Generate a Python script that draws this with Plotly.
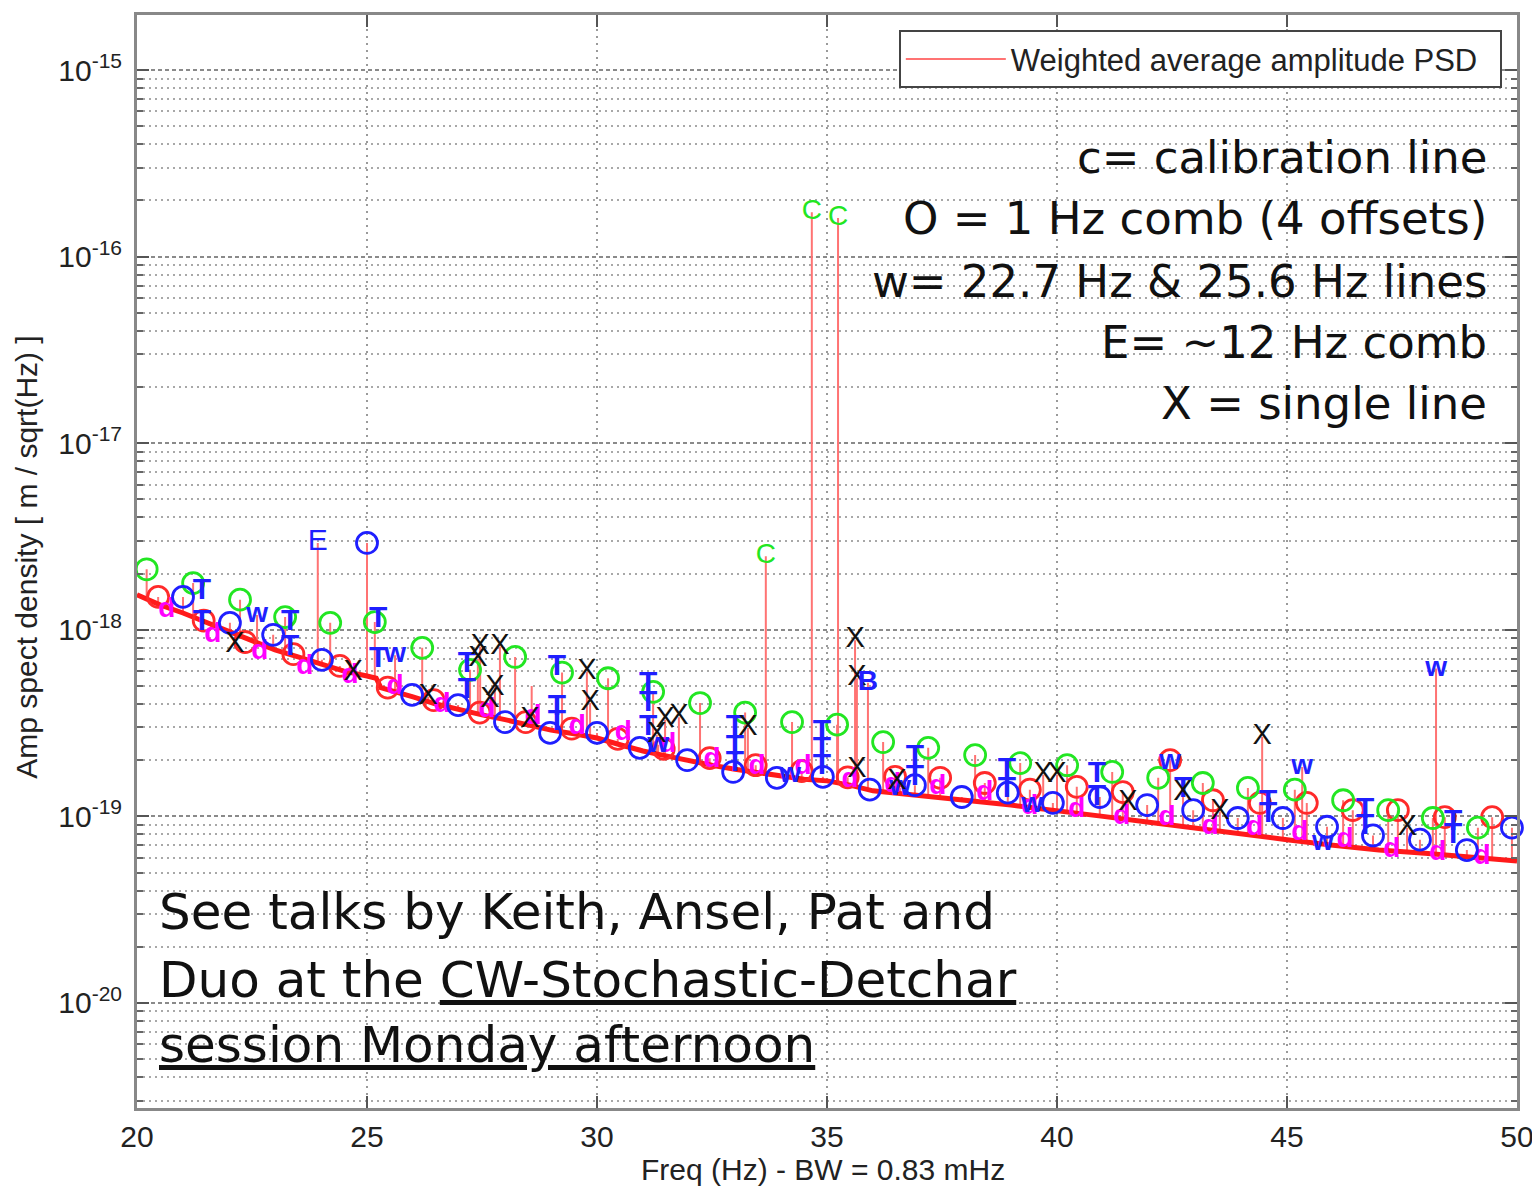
import numpy as np
import plotly.graph_objects as go

# ---------------- data ----------------
base_freq = [20.0, 20.5, 21.0, 21.5, 22.0, 22.5, 23.0, 23.5, 24.0, 24.5,
             25.0, 25.2, 25.3, 25.5, 26.0, 26.5, 27.0, 27.5, 28.0, 28.5,
             29.0, 29.5, 30.0, 30.5, 31.0, 31.5, 32.0, 32.5, 33.0, 33.5,
             34.0, 34.5, 35.0, 35.5, 36.0, 37.0, 38.0, 39.0, 40.0, 41.0,
             42.0, 43.0, 44.0, 45.0, 46.0, 47.0, 48.0, 49.0, 50.0]
base_amp = [1.54e-18, 1.36e-18, 1.23e-18, 1.10e-18, 9.7e-19, 8.7e-19, 7.8e-19, 7.15e-19, 6.5e-19, 6.0e-19,
            5.65e-19, 5.5e-19, 4.9e-19, 4.75e-19, 4.37e-19, 4.0e-19, 3.72e-19, 3.5e-19, 3.3e-19, 3.1e-19,
            2.9e-19, 2.77e-19, 2.63e-19, 2.42e-19, 2.24e-19, 2.11e-19, 1.98e-19, 1.88e-19, 1.79e-19, 1.71e-19,
            1.63e-19, 1.58e-19, 1.55e-19, 1.47e-19, 1.37e-19, 1.30e-19, 1.22e-19, 1.15e-19, 1.08e-19, 1.0e-19,
            9.3e-20, 8.7e-20, 8.05e-20, 7.5e-20, 7.0e-20, 6.6e-20, 6.35e-20, 6.05e-20, 5.77e-20]

# green circles (1 Hz comb offset)
green_freq = [20.21, 21.22, 22.24, 23.22, 24.20, 25.17, 26.20, 27.24, 28.22, 29.24,
              30.24, 31.22, 32.24, 33.22, 34.24, 35.22, 36.22, 37.20, 38.22, 39.20,
              40.22, 41.20, 42.20, 43.17, 44.15, 45.17, 46.22, 47.20, 48.17, 49.15]
green_amp = [2.11e-18, 1.78e-18, 1.45e-18, 1.17e-18, 1.09e-18, 1.10e-18, 8.0e-19, 6.1e-19, 7.15e-19, 5.9e-19,
             5.5e-19, 4.65e-19, 4.05e-19, 3.6e-19, 3.2e-19, 3.1e-19, 2.5e-19, 2.33e-19, 2.13e-19, 1.93e-19,
             1.88e-19, 1.73e-19, 1.61e-19, 1.51e-19, 1.42e-19, 1.39e-19, 1.22e-19, 1.08e-19, 9.8e-20, 8.7e-20]

# blue circles (1 Hz comb offset)
blue_freq = [21.00, 22.02, 22.96, 24.02, 25.00, 25.98, 26.98, 28.00, 28.98, 30.00,
             30.93, 31.96, 32.96, 33.91, 34.91, 35.93, 36.91, 37.93, 38.93, 39.91,
             40.93, 41.96, 42.96, 43.93, 44.91, 45.87, 46.87, 47.89, 48.91, 49.89]
blue_amp = [1.5e-18, 1.09e-18, 9.4e-19, 6.9e-19, 2.92e-18, 4.48e-19, 3.95e-19, 3.2e-19, 2.8e-19, 2.8e-19,
            2.33e-19, 2.0e-19, 1.73e-19, 1.61e-19, 1.63e-19, 1.39e-19, 1.47e-19, 1.27e-19, 1.34e-19, 1.18e-19,
            1.27e-19, 1.15e-19, 1.08e-19, 9.8e-20, 9.8e-20, 8.8e-20, 7.9e-20, 7.5e-20, 6.6e-20, 8.7e-20]

# red circles (1 Hz comb offset)
red_freq = [20.46, 21.45, 22.35, 23.40, 24.41, 25.45, 26.45, 27.45, 28.45, 29.45,
            30.45, 31.45, 32.45, 33.45, 34.45, 35.45, 36.48, 37.46, 38.43, 39.41,
            40.43, 41.43, 42.46, 43.39, 44.41, 45.43, 46.43, 47.41, 48.43, 49.46]
red_amp = [1.5e-18, 1.12e-18, 8.6e-19, 7.4e-19, 6.4e-19, 4.9e-19, 4.2e-19, 3.6e-19, 3.2e-19, 2.95e-19,
           2.6e-19, 2.3e-19, 2.05e-19, 1.88e-19, 1.75e-19, 1.62e-19, 1.63e-19, 1.61e-19, 1.51e-19, 1.39e-19,
           1.44e-19, 1.35e-19, 2.0e-19, 1.22e-19, 1.18e-19, 1.18e-19, 1.08e-19, 1.08e-19, 9.9e-20, 9.9e-20]

# magenta "d" (1 Hz comb offset)
mag_freq = [20.65, 21.65, 22.67, 23.65, 24.63, 25.61, 26.63, 27.61, 28.61, 29.57,
            30.57, 31.54, 32.50, 33.48, 34.48, 35.50, 36.43, 37.41, 38.43, 39.41,
            40.43, 41.41, 42.39, 43.33, 44.30, 45.28, 46.26, 47.28, 48.28, 49.24]
mag_amp = [1.28e-18, 9.4e-19, 7.6e-19, 6.3e-19, 5.65e-19, 4.94e-19, 3.95e-19, 3.7e-19, 3.4e-19, 3.0e-19,
           2.8e-19, 2.4e-19, 2.0e-19, 1.84e-19, 1.84e-19, 1.57e-19, 1.47e-19, 1.44e-19, 1.34e-19, 1.12e-19,
           1.08e-19, 9.9e-20, 9.8e-20, 8.8e-20, 8.7e-20, 8.1e-20, 7.5e-20, 6.6e-20, 6.4e-20, 6.05e-20]

# blue "T" stacks
t_freq = [21.41, 21.41, 23.33, 23.33, 25.24, 25.24, 27.17, 27.17, 29.13, 29.13, 29.13,
          31.11, 31.11, 31.11, 33.00, 33.00, 33.00, 34.89, 34.89, 34.89, 36.91, 36.91,
          38.91, 38.91, 40.87, 40.87, 42.74, 44.59, 44.59, 46.70, 46.70, 48.61, 48.61]
t_amp = [1.6e-18, 1.1e-18, 1.1e-18, 8.0e-19, 1.13e-18, 6.9e-19, 6.5e-19, 4.75e-19, 6.3e-19, 3.85e-19, 3.17e-19,
         5.06e-19, 4.05e-19, 3.0e-19, 2.98e-19, 2.35e-19, 1.93e-19, 2.83e-19, 2.27e-19, 1.84e-19, 2.08e-19, 1.61e-19,
         1.77e-19, 1.39e-19, 1.67e-19, 1.27e-19, 1.39e-19, 1.18e-19, 1.02e-19, 1.08e-19, 8.8e-20, 9.3e-20, 7.9e-20]

# blue "w" lines (22.7 Hz & 25.6 Hz)
w_freq = [22.61, 25.61, 31.33, 34.20, 36.59, 39.46, 42.46, 45.33, 45.78, 48.24]
w_amp = [1.2e-18, 7.3e-19, 2.42e-19, 1.67e-19, 1.42e-19, 1.15e-19, 1.95e-19, 1.84e-19, 7.2e-20, 6.2e-19]

# black "X" single lines
x_freq = [19.96, 22.13, 24.70, 26.33, 27.41, 27.46, 27.89, 27.67, 27.78, 28.54,
          29.78, 29.85, 31.30, 31.48, 31.78, 33.28, 35.61, 35.65, 35.65, 36.52,
          39.70, 40.00, 41.54, 42.74, 43.54, 44.46, 47.61]
x_amp = [1.67e-18, 8.3e-19, 5.9e-19, 4.37e-19, 7.0e-19, 8.1e-19, 8.1e-19, 4.2e-19, 4.9e-19, 3.3e-19,
         5.95e-19, 4.05e-19, 2.73e-19, 3.3e-19, 3.4e-19, 2.98e-19, 8.8e-19, 5.5e-19, 1.77e-19, 1.53e-19,
         1.67e-19, 1.67e-19, 1.19e-19, 1.34e-19, 1.06e-19, 2.67e-19, 8.7e-20]

# green "C" calibration lines
c_freq = [33.67, 34.67, 35.24]
c_amp = [2.48e-18, 1.73e-16, 1.61e-16]

# blue "E" (~12 Hz comb) and "B"
e_freq = [23.93]
e_amp = [2.92e-18]
b_freq = [35.89]
b_amp = [5.2e-19]

# an unmarked spike
other_freq = [28.58]
other_amp = [5.0e-19]

x_ticks = [20, 25, 30, 35, 40, 45, 50]
y_ticks = [1e-20, 1e-19, 1e-18, 1e-17, 1e-16, 1e-15]
y_ticktext = ["10<sup>-20</sup>", "10<sup>-19</sup>", "10<sup>-18</sup>",
              "10<sup>-17</sup>", "10<sup>-16</sup>", "10<sup>-15</sup>"]

# ---------------- build the PSD spectrum (baseline + spikes) ----------------
spike_sets = [(green_freq, green_amp), (blue_freq, blue_amp), (red_freq, red_amp),
              (w_freq, w_amp), (x_freq, x_amp), (c_freq, c_amp), (e_freq, e_amp),
              (b_freq, b_amp), (other_freq, other_amp)]
log_base = np.log10(base_amp)
events = [(f, [a]) for f, a in zip(base_freq, base_amp)]
for fl, al in spike_sets:
    for f, a in zip(fl, al):
        b = 10 ** np.interp(f, base_freq, log_base)
        if a > b:
            events.append((f, [b, a, b]))
events.sort(key=lambda e: e[0])
psd_x, psd_y = [], []
for f, vals in events:
    for v in vals:
        psd_x.append(f)
        psd_y.append(v)

FONT = "Liberation Sans, Arial, sans-serif"
fig = go.Figure()

fig.add_trace(go.Scatter(x=psd_x, y=psd_y, mode="lines",
                         name="Weighted average amplitude PSD&nbsp;&nbsp;",
                         line=dict(color="#ff7373", width=2), showlegend=True))
fig.add_trace(go.Scatter(x=base_freq, y=base_amp, mode="lines", line=dict(color="#ff1a1a", width=5),
                         showlegend=False, hoverinfo="skip"))

def circles(fx, ay, color):
    fig.add_trace(go.Scatter(x=fx, y=ay, mode="markers", showlegend=False, cliponaxis=False,
                             marker=dict(symbol="circle-open", size=21, color=color,
                                         line=dict(color=color, width=2.8))))

def letters(fx, ay, ch, color, size=26, weight="normal"):
    fig.add_trace(go.Scatter(x=fx, y=ay, mode="text", text=[ch] * len(fx), showlegend=False,
                             textposition="middle center", cliponaxis=False,
                             textfont=dict(family=FONT, size=size, color=color, weight=weight)))

circles(red_freq, red_amp, "#ff2a2a")
letters(mag_freq, mag_amp, "d", "#ff00ff", 28, "bold")
circles(green_freq, green_amp, "#22e622")
circles(blue_freq, blue_amp, "#1f1fff")
letters(t_freq, t_amp, "T", "#1f1fff", 30, "bold")
letters(w_freq, w_amp, "w", "#1f1fff", 28, "bold")
letters(x_freq, x_amp, "X", "#111111", 29)
letters(c_freq, c_amp, "C", "#22e622", 28)
letters(e_freq, e_amp, "E", "#1f1fff", 30)
letters(b_freq, b_amp, "B", "#1f1fff", 28, "bold")

# minor log ticks
minor_vals = [k * 10.0 ** n for n in range(-21, -14) for k in range(2, 10)]

fig.update_layout(
    width=1532, height=1190,
    margin=dict(l=137, r=15, t=15, b=82, autoexpand=False),
    paper_bgcolor="white", plot_bgcolor="white",
    font=dict(family=FONT, size=30, color="#222"),
    showlegend=True,
    legend=dict(x=0.989, xanchor="right", y=0.986, yanchor="top",
                bgcolor="white", bordercolor="#444", borderwidth=2,
                font=dict(family=FONT, size=31, color="#222"), itemwidth=100),
    xaxis=dict(range=[20, 50], tickvals=x_ticks, ticks="inside", ticklen=12, tickwidth=2,
               tickcolor="#555", showline=True, linecolor="#888", linewidth=3, mirror="ticks",
               showgrid=True, gridcolor="#9a9a9a", gridwidth=1.5, griddash="2px,5px",
               zeroline=False, tickfont=dict(size=30, color="#222"), ticklabeloverflow="allow",
               automargin=False),
    yaxis=dict(type="log", range=[-20.563, -14.705], tickvals=y_ticks, ticktext=y_ticktext,
               ticks="inside", ticklen=12, tickwidth=2, tickcolor="#555",
               showline=True, linecolor="#888", linewidth=3, mirror="ticks",
               showgrid=True, gridcolor="#8a8a8a", gridwidth=1.5, griddash="4px,3px",
               zeroline=False, tickfont=dict(size=30, color="#222"), ticklabelstandoff=6,
               automargin=False,
               minor=dict(tickvals=minor_vals, ticks="inside", ticklen=6, tickcolor="#666",
                          showgrid=True, gridcolor="#a8a8a8", gridwidth=1.5, griddash="2px,4px")),
)

# axis titles
fig.add_annotation(text="Freq (Hz) - BW = 0.83 mHz", xref="paper", yref="paper",
                   x=0.497, y=-0.0567, xanchor="center", yanchor="middle", showarrow=False,
                   font=dict(family=FONT, size=30, color="#222"))
fig.add_annotation(text="Amp spect density [ m / sqrt(Hz) ]", xref="paper", yref="paper",
                   x=-0.080, y=0.504, xanchor="center", yanchor="middle", showarrow=False,
                   textangle=-90, font=dict(family=FONT, size=30, color="#222"))

BIG = "DejaVu Sans, Open Sans, sans-serif"
right_lines = ["c= calibration line", "O = 1 Hz comb (4 offsets)", "w= 22.7 Hz &amp; 25.6 Hz lines",
               "E= ~12 Hz comb", "X = single line"]
right_y = [0.8692, 0.8134, 0.7566, 0.7008, 0.6441]
for t, yy in zip(right_lines, right_y):
    fig.add_annotation(text=t, xref="paper", yref="paper", x=0.980, y=yy, xanchor="right",
                       yanchor="middle", showarrow=False,
                       font=dict(family=BIG, size=45, color="#111"))

left_lines = ["See talks by Keith, Ansel, Pat and",
              "Duo at the <u>CW-Stochastic-Detchar</u>",
              "<u>session Monday afternoon</u>"]
left_y = [0.1793, 0.1171, 0.0576]
for t, yy in zip(left_lines, left_y):
    fig.add_annotation(text=t, xref="paper", yref="paper", x=0.0145, y=yy, xanchor="left",
                       yanchor="middle", showarrow=False,
                       font=dict(family=BIG, size=50, color="#111"))

fig.write_html("out.html")
